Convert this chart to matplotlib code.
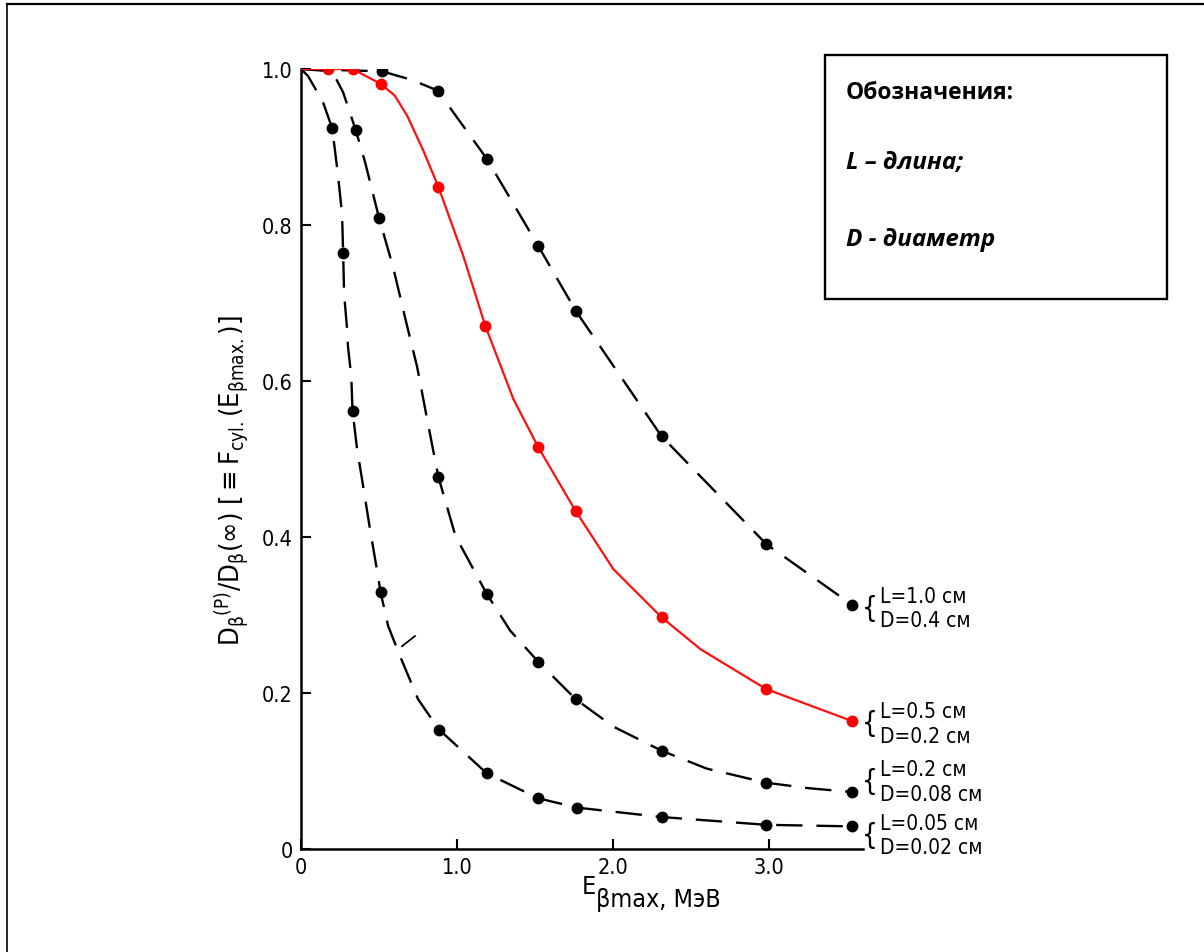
import matplotlib
matplotlib.use("Agg")
import matplotlib.pyplot as plt
from matplotlib import font_manager as fm
from matplotlib.patches import Rectangle
from matplotlib.lines import Line2D

# pick the narrowest available sans family for the scanned-chart lettering
_names = {f.name for f in fm.fontManager.ttflist}
_cond = [f for f in fm.fontManager.ttflist
         if f.name == "DejaVu Sans" and "condensed" in str(f.stretch)]
if "Liberation Sans Narrow" in _names:
    NFAM, NSTRETCH = "Liberation Sans Narrow", "normal"
elif _cond:
    NFAM, NSTRETCH = "DejaVu Sans", "condensed"
else:
    NFAM, NSTRETCH = "Liberation Sans", "normal"
NARROW = [NFAM, "DejaVu Sans"]

plt.rcParams["lines.scale_dashes"] = False
plt.rcParams["mathtext.fontset"] = "custom"
plt.rcParams["mathtext.rm"] = f"{NFAM}:stretch={NSTRETCH}"
plt.rcParams["mathtext.it"] = f"{NFAM}:stretch={NSTRETCH}"
plt.rcParams["mathtext.bf"] = f"{NFAM}:bold"
plt.rcParams["mathtext.fallback"] = "stixsans"

# ---------------- data ----------------
# Curve 1: L=1.0 см, D=0.4 см (black dashed)
c1_mark_x = [0.52, 0.88, 1.19, 1.52, 1.76, 2.31, 2.98, 3.53]
c1_mark_y = [0.997, 0.972, 0.885, 0.773, 0.690, 0.529, 0.391, 0.313]
c1_path_x = [0.0, 0.52, 0.71, 0.88, 0.97, 1.19, 1.52, 1.76, 2.31, 2.98, 3.53]
c1_path_y = [1.0, 0.997, 0.986, 0.972, 0.946, 0.885, 0.773, 0.690, 0.529, 0.391, 0.313]

# Curve 2: L=0.5 см, D=0.2 см (red solid)
c2_mark_x = [0.17, 0.33, 0.51, 0.88, 1.18, 1.52, 1.76, 2.31, 2.98, 3.53]
c2_mark_y = [1.0, 1.0, 0.981, 0.849, 0.671, 0.515, 0.433, 0.297, 0.205, 0.164]
c2_path_x = [0.0, 0.17, 0.33, 0.51, 0.60, 0.68, 0.78, 0.88, 1.04, 1.18, 1.36,
             1.52, 1.76, 2.0, 2.31, 2.56, 2.98, 3.53]
c2_path_y = [1.0, 1.0, 1.0, 0.981, 0.966, 0.94, 0.897, 0.849, 0.760, 0.671,
             0.577, 0.515, 0.433, 0.359, 0.297, 0.256, 0.205, 0.164]

# Curve 3: L=0.2 см, D=0.08 см (black dashed)
c3_mark_x = [0.35, 0.50, 0.88, 1.19, 1.52, 1.76, 2.31, 2.98, 3.53]
c3_mark_y = [0.922, 0.809, 0.477, 0.327, 0.240, 0.192, 0.126, 0.085, 0.073]
c3_path_x = [0.0, 0.20, 0.27, 0.35, 0.41, 0.50, 0.59, 0.673, 0.744, 0.808, 0.88,
             0.99, 1.19, 1.34, 1.52, 1.76, 2.0, 2.31, 2.6, 2.98, 3.25, 3.53]
c3_path_y = [1.0, 0.997, 0.97, 0.922, 0.881, 0.809, 0.746, 0.676, 0.618, 0.551,
             0.477, 0.401, 0.327, 0.28, 0.240, 0.192, 0.157, 0.126, 0.103,
             0.085, 0.078, 0.073]

# Curve 4: L=0.05 см, D=0.02 см (black dashed)
c4_mark_x = [0.20, 0.27, 0.33, 0.51, 0.885, 1.19, 1.52, 1.77, 2.31, 2.98, 3.53]
c4_mark_y = [0.924, 0.764, 0.562, 0.329, 0.153, 0.097, 0.065, 0.053, 0.041, 0.031, 0.029]
c4_path_x = [0.0, 0.045, 0.14, 0.20, 0.237, 0.263, 0.27, 0.276, 0.295, 0.301,
             0.322, 0.33, 0.359, 0.391, 0.442, 0.494, 0.51, 0.558, 0.635, 0.75,
             0.86, 0.885, 1.19, 1.52, 1.77, 2.31, 2.98, 3.53]
c4_path_y = [1.0, 0.991, 0.958, 0.924, 0.864, 0.814, 0.764, 0.712, 0.667, 0.644,
             0.606, 0.562, 0.513, 0.474, 0.410, 0.349, 0.329, 0.286, 0.247, 0.192,
             0.160, 0.153, 0.097, 0.065, 0.053, 0.041, 0.031, 0.029]

# short stray stroke visible in the scan
stray_x = [0.647, 0.730]
stray_y = [0.260, 0.273]

curve_labels = [("L=1.0 см", "D=0.4 см"),
                ("L=0.5 см", "D=0.2 см"),
                ("L=0.2 см", "D=0.08 см"),
                ("L=0.05 см", "D=0.02 см")]
x_ticks = [0, 1.0, 2.0, 3.0]
x_tick_labels = ["0", "1.0", "2.0", "3.0"]
y_ticks = [0, 0.2, 0.4, 0.6, 0.8, 1.0]
y_tick_labels = ["0", "0.2", "0.4", "0.6", "0.8", "1.0"]
legend_title = "Обозначения:"
legend_lines = ["L – длина;", "D - диаметр"]

# ---------------- figure ----------------
W, H = 1204, 953
fig = plt.figure(figsize=(W / 100, H / 100), dpi=100)
ax = fig.add_axes([301 / W, (H - 850) / H, (863 - 301) / W, (850 - 70) / H])
ax.set_xlim(0, 3.6)
ax.set_ylim(0, 1.0)
for s in ("top", "right"):
    ax.spines[s].set_visible(False)
for s in ("left", "bottom"):
    ax.spines[s].set_linewidth(1.8)

dash = (0, (19, 10))
lw = 1.7
ms = 7.5
ax.plot(c1_path_x, c1_path_y, color="black", lw=lw, linestyle=dash, zorder=2)
ax.plot(c1_mark_x, c1_mark_y, "o", color="black", ms=ms, zorder=3)
ax.plot(c3_path_x, c3_path_y, color="black", lw=lw, linestyle=dash, zorder=2)
ax.plot(c3_mark_x, c3_mark_y, "o", color="black", ms=ms, zorder=3)
ax.plot(c4_path_x, c4_path_y, color="black", lw=lw, linestyle=dash, zorder=2)
ax.plot(c4_mark_x, c4_mark_y, "o", color="black", ms=ms, zorder=3)
ax.plot(stray_x, stray_y, color="black", lw=1.3, zorder=2)
ax.plot(c2_path_x, c2_path_y, color="#ff1010", lw=1.6, zorder=4)
ax.plot(c2_mark_x, c2_mark_y, "o", color="#ff0000", ms=ms, zorder=5)

tick_font = dict(family=NARROW, stretch=NSTRETCH, fontsize=15.5)
ax.set_xticks(x_ticks)
ax.set_xticklabels(x_tick_labels, **tick_font)
ax.set_yticks(y_ticks)
ax.set_yticklabels(y_tick_labels, **tick_font)
ax.tick_params(direction="in", length=7, width=1.5, pad=6)

# curve labels at right
label_y = [0.309, 0.161, 0.087, 0.018]
for (l1, l2), yy in zip(curve_labels, label_y):
    ax.text(3.594, yy, "{", family=NARROW, stretch=NSTRETCH, fontsize=20,
            ha="left", va="center", clip_on=False)
    ax.text(3.712, yy, l1 + "\n" + l2, family=NARROW, stretch=NSTRETCH,
            fontsize=15, ha="left", va="center", linespacing=1.3, clip_on=False)

# axis labels
fig.text(232 / W, 1 - 481 / H,
         r"$\mathrm{D_{\beta}{}^{(P)}/D_{\beta}(\infty)\ [\equiv F_{cyl.}(E_{\beta max.})]}$",
         rotation=90, ha="center", va="center", fontsize=19.5)
fig.text(582 / W, 1 - 887 / H, "E", family=NARROW, stretch=NSTRETCH,
         fontsize=18, ha="left", va="center")
fig.text(596 / W, 1 - 900 / H, "βmax, МэВ", family=NARROW, stretch=NSTRETCH,
         fontsize=18, ha="left", va="center")

# legend box
fig.add_artist(Rectangle((825 / W, 1 - 300 / H), (1167 - 825) / W, (300 - 56) / H,
                         transform=fig.transFigure, fill=False, lw=1.7,
                         ec="black"))
LFAM = ["Open Sans", "DejaVu Sans"]
fig.text(846 / W, 1 - 93 / H, legend_title, family=LFAM,
         fontweight="bold", fontsize=16.5, ha="left", va="center")
fig.text(846 / W, 1 - 163 / H, legend_lines[0], family=LFAM,
         fontweight="bold", style="italic", fontsize=17.5, ha="left", va="center")
fig.text(846 / W, 1 - 240 / H, legend_lines[1], family=LFAM,
         fontweight="bold", style="italic", fontsize=17.5, ha="left", va="center")

# outer frame (top and left edges)
fig.add_artist(Line2D([7 / W, 7 / W], [0, 1 - 5 / H], transform=fig.transFigure,
                      color="black", lw=1.2))
fig.add_artist(Line2D([7 / W, 1], [1 - 5 / H, 1 - 5 / H], transform=fig.transFigure,
                      color="black", lw=1.6))

fig.savefig("out.png", dpi=100)
